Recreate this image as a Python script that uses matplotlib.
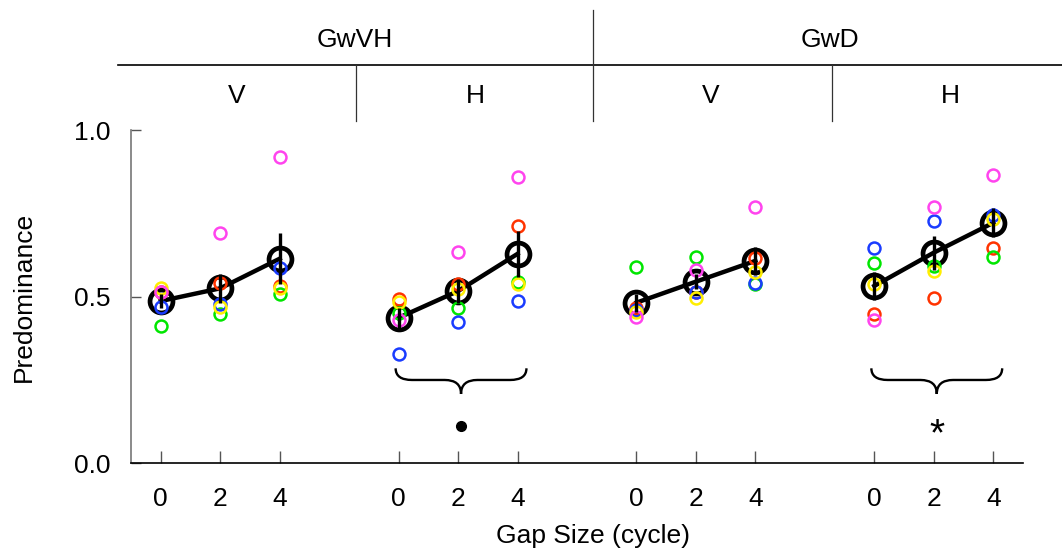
"""
Predominance vs. gap size for the GwVH and GwD conditions (V / H),
individual observers as coloured rings, group mean +/- SEM in black.
"""

import matplotlib.pyplot as plt
import numpy as np
from matplotlib.path import Path
from matplotlib.patches import PathPatch

plt.rcParams["font.family"] = ["Liberation Sans", "DejaVu Sans"]
plt.rcParams["font.size"] = 19

# Gap sizes (cycles) and the four panels, left to right
gaps = [0, 2, 4]
groups = ["GwVH", "GwD"]
panels = ["V", "H", "V", "H"]
panel_spacing = 8

# Individual observers, 12 values each: 4 panels x 3 gap sizes
red = [0.513, 0.540, 0.533, 0.493, 0.538, 0.712, 0.465, 0.514, 0.615, 0.448, 0.495, 0.647]
green = [0.413, 0.447, 0.508, 0.450, 0.465, 0.545, 0.590, 0.619, 0.537, 0.600, 0.592, 0.618]
blue = [0.468, 0.478, 0.585, 0.327, 0.425, 0.487, 0.460, 0.515, 0.540, 0.645, 0.728, 0.745]
yellow = [0.525, 0.470, 0.525, 0.483, 0.523, 0.538, 0.455, 0.497, 0.575, 0.538, 0.577, 0.733]
magenta = [0.515, 0.690, 0.918, 0.430, 0.633, 0.860, 0.440, 0.580, 0.770, 0.430, 0.768, 0.865]

observers = [
    (red, "#ff3300"),
    (green, "#00e600"),
    (blue, "#1a3cff"),
    (yellow, "#ffee00"),
    (magenta, "#ff44ee"),
]

# Significance marks under panels (panel index, symbol)
signif = [(1, "dot"), (3, "*")]

W, H = 1062, 548
fig = plt.figure(figsize=(W / 100, H / 100), dpi=100)
ax = fig.add_axes([131 / W, (H - 463.3) / H, (1023 - 131) / W, (463.3 - 130) / H])

subj = np.array([o[0] for o in observers])
mean = subj.mean(axis=0)
sem = subj.std(axis=0, ddof=1) / np.sqrt(subj.shape[0])

xs_all = []
for p in range(len(panels)):
    xs = np.array(gaps) + p * panel_spacing
    xs_all.extend(xs)
    sl = slice(3 * p, 3 * p + 3)
    ax.plot(xs, mean[sl], color="black", lw=3.2, marker="o", ms=16.5,
            mfc="none", mec="black", mew=3.4, zorder=2)
    for vals, col in observers:
        ax.plot(xs, np.array(vals)[sl], ls="none", marker="o", ms=8.6,
                mfc="none", mec=col, mew=1.8, zorder=3)
    ax.errorbar(xs, mean[sl], yerr=sem[sl], fmt="none", ecolor="black",
                elinewidth=2.4, capsize=0, zorder=4)


def brace(ax, xc, half=2.2, top=0.285, mid=0.25, tip=0.208, r=0.55):
    verts, codes = [], []
    for s in (-1, 1):
        verts += [(xc + s * half, top), (xc + s * half, mid),
                  (xc + s * (half - r), mid), (xc + s * r, mid),
                  (xc, mid), (xc, tip)]
        codes += [Path.MOVETO, Path.CURVE3, Path.CURVE3, Path.LINETO,
                  Path.CURVE3, Path.CURVE3]
    ax.add_patch(PathPatch(Path(verts, codes), fill=False, lw=1.7,
                           edgecolor="black", zorder=3))


for p, sym in signif:
    xc = p * panel_spacing + 2.1
    brace(ax, xc)
    if sym == "dot":
        ax.plot([xc], [0.113], marker="o", ms=7, color="black")
    else:
        ax.text(xc, 0.085, sym, ha="center", va="center", fontsize=28)

ax.set_xlim(-1, 29)
ax.set_ylim(0, 1)
ax.set_xticks(xs_all)
ax.set_xticklabels([str(g) for g in gaps] * len(panels))
ax.set_yticks([0, 0.5, 1.0])
ax.set_yticklabels(["0.0", "0.5", "1.0"])
ax.tick_params(axis="x", direction="in", length=9, width=1, color="#555555", pad=17)
ax.tick_params(axis="y", direction="in", length=7, width=1, color="#555555", pad=15)
ax.spines["top"].set_visible(False)
ax.spines["right"].set_visible(False)
ax.spines["left"].set_color("#777777")
ax.spines["left"].set_linewidth(1.2)
ax.spines["bottom"].set_linewidth(1.2)
ax.set_xlabel("Gap Size (cycle)")
ax.xaxis.set_label_coords((593 - 131) / 892, -0.182)
ax.set_ylabel("Predominance")
ax.yaxis.set_label_coords(-0.107, 0.5)

# Header strip with condition labels, laid out in pixel units
hdr = fig.add_axes([0, (H - 130) / H, 1, 130 / H])
hdr.set_xlim(0, W)
hdr.set_ylim(130, 0)
hdr.axis("off")
hdr.plot([118, W], [65, 65], color="black", lw=1.2)
hdr.plot([593, 593], [10, 121], color="#333333", lw=0.9)
for xv in (356, 832):
    hdr.plot([xv, xv], [65, 121], color="#333333", lw=0.9)
for xt, name in zip((355, 830), groups):
    hdr.text(xt, 40, name, ha="center", va="center")
for xt, name in zip((237, 475, 711, 950), panels):
    hdr.text(xt, 96, name, ha="center", va="center")

fig.savefig("out.png", dpi=100)
